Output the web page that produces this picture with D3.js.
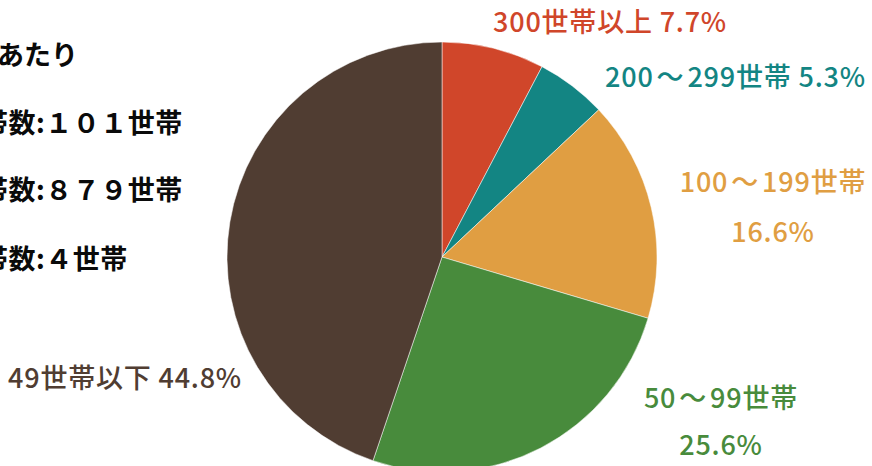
<!DOCTYPE html>
<html><head><meta charset="utf-8">
<script src="https://cdn.jsdelivr.net/npm/d3@7"></script>
<style>
html,body{margin:0;padding:0;background:#fff;overflow:hidden;}
svg{display:block;font-family:"Noto Sans CJK JP","Noto Sans",sans-serif;}
</style></head>
<body>
<svg id="chart" width="872" height="466"></svg>
<script>
// Data
const categories = ["300世帯以上", "200〜299世帯", "100〜199世帯", "50〜99世帯", "49世帯以下"];
const shares = [7.7, 5.3, 16.6, 25.6, 44.8];
const colors = ["#d0462a", "#138583", "#e09e42", "#488b3c", "#503d32"];
const infoLines = ["1団地あたり", "平均世帯数:１０１世帯", "最大世帯数:８７９世帯", "最小世帯数:４世帯"];

const svg = d3.select("#chart");
const cx = 442, cy = 257, R = 215;

const pie = d3.pie().sort(null).value(d => d.v);
const arc = d3.arc().innerRadius(0).outerRadius(R);
const data = categories.map((c, i) => ({c, v: shares[i], color: colors[i]}));

const g = svg.append("g").attr("transform", `translate(${cx},${cy})`);
g.selectAll("path").data(pie(data)).join("path")
  .attr("d", arc)
  .attr("fill", d => d.data.color)
  .attr("stroke", "#ffffff")
  .attr("stroke-width", 0.5);

// Labels (layout separate from data)
const labelLayout = [
  {x: 493, y: [22], anchor: "start", single: true},
  {x: 605, y: [77], anchor: "start", single: true},
  {x: 773, y: [182, 232], anchor: "middle"},
  {x: 721, y: [398, 445], anchor: "middle"},
  {x: 8, y: [378], anchor: "start", single: true}
];
const fs = 27;
function addText(t, x, y, anchor, color) {
  const el = svg.append("text")
    .attr("x", x).attr("y", y + fs * 0.36)
    .attr("text-anchor", anchor)
    .attr("fill", color)
    .attr("font-size", fs)
    .attr("font-weight", 500)
    .attr("letter-spacing", 0.8);
  const parts = t.split("〜");
  parts.forEach((p, k) => {
    if (k > 0) {
      el.append("tspan").attr("dx", 3).text("〜");
      el.append("tspan").attr("dx", 3).text(p);
    } else {
      el.append("tspan").text(p);
    }
  });
}
data.forEach((d, i) => {
  const L = labelLayout[i];
  const pct = d3.format(".1f")(d.v) + "%";
  const texts = L.single ? [d.c + " " + pct] : [d.c, pct];
  texts.forEach((t, k) => addText(t, L.x, L.y[k], L.anchor, d.color));
});

// Info text on the left (clipped by the window edge)
const infoFs = 27;
const infoX = [-73, -101.5, -101.5, -101.5];
const infoY = [55, 123, 190, 259];
infoLines.forEach((t, i) => {
  svg.append("text")
    .attr("x", infoX[i]).attr("y", infoY[i] + infoFs * 0.37)
    .attr("fill", "#0a0a0a")
    .attr("font-size", infoFs)
    .attr("font-weight", 700)
    .attr("letter-spacing", i > 0 ? 0.5 : 0)
    .text(t);
});
</script>
</body></html>
